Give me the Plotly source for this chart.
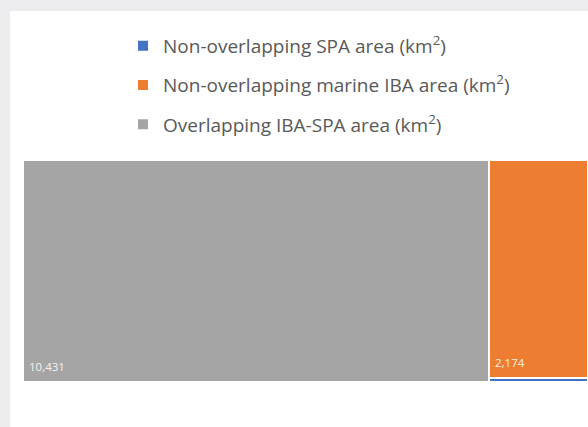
import plotly.graph_objects as go

# Areas in km2
categories = [
    "Non-overlapping SPA area (km<sup>2</sup>)",
    "Non-overlapping marine IBA area (km<sup>2</sup>)",
    "Overlapping IBA-SPA area (km<sup>2</sup>)",
]
values = [40, 2174, 10431]
colors = ["#4472C4", "#ED7D31", "#A5A5A5"]

spa_only, iba_only, overlap = values
col2 = spa_only + iba_only
total = overlap + col2

# Column layout: overlap fills column 1, column 2 split vertically (SPA at bottom)
x_left = [overlap, overlap, 0]
widths = [col2, col2, overlap]
bases = [0, spa_only / col2, 0]
heights = [spa_only / col2, iba_only / col2, 1]

fig = go.Figure()
for i, name in enumerate(categories):
    fig.add_trace(go.Bar(
        x=[x_left[i] + widths[i] / 2],
        y=[heights[i]],
        base=[bases[i]],
        width=[widths[i]],
        name=name,
        legendgroup=f"g{i}",
        marker=dict(color=colors[i], line=dict(color="white", width=2)),
        hoverinfo="skip",
    ))

# Value labels at bottom-left of the larger tiles
for i in (2, 1):
    fig.add_annotation(
        x=x_left[i], y=bases[i], xref="x", yref="y",
        text=f"{values[i]:,}", showarrow=False,
        xanchor="left", yanchor="bottom", xshift=4, yshift=6,
        font=dict(family="Open Sans", size=11.5, color="rgba(255,255,255,0.9)"),
    )

L, R, T, B = 23, 0, 160, 45
W, H = 588, 427
pw, ph = W - L - R, H - T - B

def px_x(p):
    return (p - L) / pw

def px_y(p):
    return (H - B - p) / ph

# White card over the light grey page
fig.add_shape(type="rect", xref="paper", yref="paper",
              x0=px_x(10), x1=px_x(W + 10), y0=px_y(H + 10), y1=px_y(11),
              fillcolor="white", line=dict(width=0), layer="below")

fig.update_layout(
    width=W, height=H,
    margin=dict(l=L, r=R, t=T, b=B),
    paper_bgcolor="#EDEDEF",
    plot_bgcolor="rgba(0,0,0,0)",
    barmode="overlay",
    bargap=0,
    showlegend=True,
    legend=dict(
        x=px_x(123), y=px_y(27), xanchor="left", yanchor="top",
        font=dict(family="Open Sans", size=19, color="#595959"),
        tracegroupgap=11.5, bgcolor="rgba(0,0,0,0)",
    ),
    xaxis=dict(range=[0, total], visible=False, fixedrange=True),
    yaxis=dict(range=[0, 1], visible=False, fixedrange=True),
)

fig.write_html("out.html")
